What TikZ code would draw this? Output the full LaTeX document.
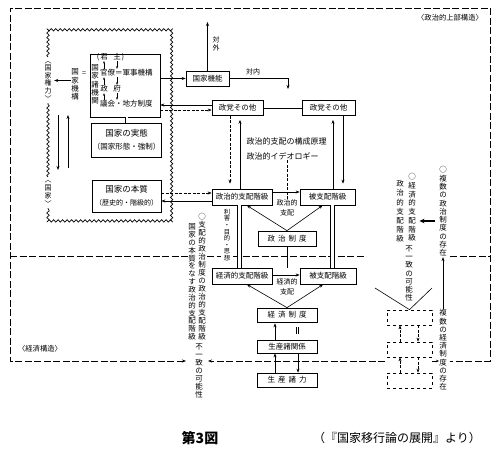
\documentclass[tikz,border=0pt]{standalone}
\usepackage{fontspec}
\setmainfont{Noto Sans CJK JP}
\usetikzlibrary{arrows.meta,decorations.pathmorphing}

% vertical (tate-gaki) text: one glyph per line
\newcommand\tate[2][8.2pt]{\vbox{\baselineskip=#1\lineskiplimit=-20pt\lineskip=0pt\tatex#2\relax}}
\def\tatex#1{\ifx\relax#1\else\hbox to 1em{\hss#1\hss}\expandafter\tatex\fi}

\begin{document}
\begin{tikzpicture}[x=1pt,y=-1pt,
    kbox/.style={draw, line width=0.7pt, inner sep=1pt, font=\fontsize{7.5}{9}\selectfont},
    txt/.style={inner sep=0.5pt, font=\fontsize{7.5}{9}\selectfont},
    small/.style={inner sep=0.5pt, font=\fontsize{7}{10}\selectfont},
    arr/.style={line width=0.6pt, -{Stealth[length=4pt,width=3pt]}},
    tarr/.style={line width=0.5pt, -{Stealth[length=2.6pt,width=2pt]}},
    waku/.style={line width=0.8pt, dash pattern=on 7pt off 2.5pt},
    dline/.style={dash pattern=on 3pt off 1.5pt},
    wavy/.style={line width=0.7pt, decorate, decoration={snake, segment length=4.5pt, amplitude=1.2pt}}]
  \useasboundingbox (0,0) rectangle (500,452);

    % Draw the outer frames
  \draw[waku, {Stealth[length=4pt,width=3pt]}-] (186,361) -| (10,8) -| (490,361) -- (450,361);
  \draw[waku] (10,256) -- (188,256);
  \draw[waku] (207,256) -- (221,256);
  \draw[waku] (233,256) -- (366,256);
  \draw[waku] (450,256) -- (490,256);
  \draw[waku, -{Stealth[length=4pt,width=3pt]}] (385,361) -- (208,361);
  \draw[waku, -{Stealth[length=3pt,width=2.5pt]}] (432,361) -- (439,361);
  \node[small, font=\fontsize{7.3}{9}\selectfont] (joubu) at (450,18) {〈政治的上部構造〉};
  \node[small, font=\fontsize{7.3}{9}\selectfont] (keizaikouzou) at (40,349) {〈経済構造〉};

    % The state (wavy frame)
  \draw[wavy] (48,57) -- (48,30) -- (175,30) -- (175,222) -- (48,222) -- (48,208);
  \draw[wavy] (48,177) -- (48,103);
  \node[small] (kenryoku) at (48,81) {\tate[7.6pt]{︿国家権力﹀}};
  \node[small] (kokka) at (48,193.5) {\tate[8.3pt]{︿国家﹀}};
  \node[txt] (kikou) at (75,84.5) {\tate[8.3pt]{国家機構}};
  \node[small] (eq1) at (84,74) {=};
  \node[txt] (shokikan) at (95,84.5) {\tate[8.25pt]{国家諸機関}};

  \node[kbox, minimum width=70pt, minimum height=63pt] (kikan) at (125,85.5) {};
  \node[txt] (kun) at (104,57) {君};
  \node[txt, anchor=east, inner sep=0pt] (kunL) at (kun.west) {(};
  \node[txt] (shu) at (117,57) {主};
  \node[txt, anchor=west, inner sep=0pt] (shuR) at (shu.east) {)};
  \node[txt, anchor=west] (kanryo) at (99.5,73) {官僚＝軍事機構};
  \node[txt] (sei) at (104,89) {政};
  \node[txt] (fu) at (117,89) {府};
  \node[txt, anchor=west] (gikai) at (99.5,104) {議会・地方制度};
  \draw[tarr] (kanryo.north -| kun) -- (kun.south);
  \draw[tarr] (shu.south) -- (kanryo.north -| shu);
  \draw[tarr] (sei.north) -- (sei |- kanryo.south);
  \draw[tarr] (fu |- kanryo.south) -- (fu.north);
  \draw[tarr] (gikai.north -| sei) -- (sei.south);
  \draw[tarr] (fu.south) -- (gikai.north -| fu);

  \node[kbox, minimum width=69pt, minimum height=34pt, align=center, font=\fontsize{7.5}{12.5}\selectfont] (jittai) at (126.5,140)
    {{\fontsize{8.5}{12.5}\selectfont 国家の実態}\\（国家形態・強制）};
  \node[kbox, minimum width=69pt, minimum height=32pt, align=center, font=\fontsize{7}{12.5}\selectfont] (honshitsu) at (126.5,196)
    {{\fontsize{8.5}{12.5}\selectfont 国家の本質}\\（歴史的・階級的）};
  \draw[double, double distance=2pt, line width=0.5pt] (jittai.north) -- (jittai.north |- kikan.south);
  \draw[arr, shorten >=2pt] ([yshift=4pt]kikou.west) -- ([yshift=4pt]kikou.west -| kenryoku.east);
  \coordinate (la1) at (58,115);
  \coordinate (la2) at (58,170);
  \coordinate (ra1) at (68,168);
  \coordinate (ra2) at (68,115);
  \draw[arr] (la1) -- (la2);
  \draw[arr] (ra1) -- (ra2);

    % State functions and parties
  \node[kbox, minimum width=43pt, minimum height=15pt] (kinou) at (207.5,78.5) {国家機能};
  \node[kbox, minimum width=51pt, minimum height=15pt] (seito1) at (237.5,108) {政党その他};
  \node[kbox, minimum width=53pt, minimum height=15pt] (seito2) at (328.5,108) {政党その他};
  \node[small] (taigai) at (216,44) {\tate[8pt]{対外}};
  \node[small] (tainai) at (253,72) {対内};
  \coordinate (gai) at (207.5,22);
  \coordinate (nai) at (288,89);
  \draw[arr] (kikan.east |- kinou) -- (kinou.west);
  \draw[arr] (kinou.north) -- (gai);
  \draw[arr] (kinou.east) -| (nai);
  \draw[arr] ([yshift=3pt]seito1.west) -- ([yshift=3pt]seito1.west -| kikan.east);
  \draw[arr, dline] ([yshift=-2pt]seito1.west -| kikan.east) -- ([yshift=-2pt]seito1.west);
  \draw[line width=0.6pt] (seito1.east) -- (seito2.west);

    % Political domination
  \node[txt, anchor=west, font=\fontsize{8}{9}\selectfont] (genri) at (246,141) {政治的支配の構成原理};
  \node[txt, anchor=west, font=\fontsize{8}{9}\selectfont] (ideo) at (246,156) {政治的イデオロギー};
  \node[kbox, minimum width=60pt, minimum height=16pt] (sihai1) at (242,197) {政治的支配階級};
  \node[kbox, minimum width=55pt, minimum height=16pt] (hisihai1) at (327.5,197) {被支配階級};
  \node[kbox, minimum width=58pt, minimum height=15pt] (seiji) at (287,238.5) {政\hspace{3pt}治\hspace{3pt}制\hspace{3pt}度};
  \node[small, align=center] (seijisihai) at (287,208) {政治的\\支配};
  \draw[arr, dline, shorten >=5pt] ([xshift=-7.5pt]seito1.south) -- ([xshift=-12pt]sihai1.north);
  \draw[arr, shorten >=4pt] ([xshift=-2pt]sihai1.north) -- ([xshift=2.5pt]seito1.south);
  \draw[arr, shorten >=4pt] ([xshift=5.5pt]hisihai1.north) -- ([xshift=4.5pt]seito2.south);
  \draw[arr, shorten >=5pt] ([xshift=14.5pt]seito2.south) -- ([xshift=15.5pt]hisihai1.north);
  \draw[dline, line width=0.6pt] (ideo.south -| seiji.north) -- (seijisihai.north);
  \draw[arr] ([yshift=5pt]sihai1.east) -- ([yshift=5pt]hisihai1.west);
  \draw[arr] (seiji.north) -- (sihai1.-60);
  \draw[arr] (seiji.north) -- (hisihai1.-120);
  \draw[arr, dline] ([yshift=3pt]honshitsu.east) -- ([yshift=3pt]honshitsu.east -| sihai1.west);
  \draw[arr] ([yshift=-4pt]sihai1.west) -- ([yshift=-4pt]sihai1.west -| honshitsu.east);

    % Economic domination
  \node[kbox, minimum width=60pt, minimum height=16pt] (sihai2) at (242,276) {経済的支配階級};
  \node[kbox, minimum width=56pt, minimum height=16pt] (hisihai2) at (328,276) {被支配階級};
  \node[kbox, minimum width=60pt, minimum height=14pt] (keizai) at (287,315) {経\hspace{3pt}済\hspace{3pt}制\hspace{3pt}度};
  \node[kbox, minimum width=60pt, minimum height=13pt] (kankei) at (287,346.5) {生産諸関係};
  \node[kbox, minimum width=60pt, minimum height=14pt] (ryoku) at (287,380) {生\hspace{3pt}産\hspace{3pt}諸\hspace{3pt}力};
  \node[small, align=center] (keizaisihai) at (287,287) {経済的\\支配};
  \node[inner sep=0pt, font=\fontsize{6.3}{7}\selectfont] (rigai) at (227,235) {\tate[6.6pt]{利害・目的・思想}};
  \draw[double, double distance=3.5pt, line width=0.5pt] ([xshift=-2.5pt]sihai1.south) -- ([xshift=-2.5pt]sihai2.north);
  \draw[double, double distance=3.5pt, line width=0.5pt] ([xshift=5pt]hisihai1.south) -- ([xshift=4.5pt]hisihai2.north);
  \draw[line width=0.6pt] (seiji.south) -- (seiji.south |- sihai2.north);
  \draw[arr] ([yshift=1pt]sihai2.east) -- ([yshift=1pt]hisihai2.west);
  \draw[arr] (keizai.north) -- (sihai2.-60);
  \draw[arr] (keizai.north) -- (hisihai2.-120);
  \draw[arr, shorten >=1pt] ([xshift=-12pt]kankei.north) -- ([xshift=-12pt]keizai.south);
  \node[inner sep=0pt] (ident) at (297,330.5) {\rule{1pt}{7pt}\hspace{1pt}\rule{1pt}{7pt}};
  \draw[arr] ([xshift=-12pt]ryoku.north) -- ([xshift=-12pt]kankei.south);
  \draw[arr] ([xshift=11pt]kankei.south) -- ([xshift=11pt]ryoku.north);

    % Notes in the middle column
  \node[txt] (tL1) at (202,277) {\tate[8pt]{○支配的政治制度の政治的支配階級}};
  \node[txt] (tL2) at (192,282) {\tate[7.86pt]{国家の本質をなす政治的支配階級}};
  \node[txt] (tL3) at (199,371) {\tate[8pt]{不一致の可能性}};

    % Right side: plural systems
  \node[kbox, dashed, minimum width=45pt, minimum height=15pt] (blank1) at (409.5,317.5) {};
  \node[kbox, dashed, minimum width=45pt, minimum height=15pt] (blank2) at (409.5,349.5) {};
  \node[kbox, dashed, minimum width=45pt, minimum height=15pt] (blank3) at (409.5,380.5) {};
  \draw[arr, dline] ([xshift=-9.5pt]blank2.north) -- ([xshift=-9.5pt]blank1.south);
  \draw[arr, dline] ([xshift=8.5pt]blank1.south) -- ([xshift=8.5pt]blank2.north);
  \draw[arr, dline] ([xshift=-9.5pt]blank3.north) -- ([xshift=-9.5pt]blank2.south);
  \draw[arr, dline] ([xshift=8.5pt]blank2.south) -- ([xshift=8.5pt]blank3.north);
  \coordinate (vL) at (375,288);
  \coordinate (vR) at (432,288);
  \draw[line width=0.6pt] (vL) -- (blank1.north) -- (vR);

  \node[txt] (tR1) at (412,207.5) {\tate[8.7pt]{○経済的支配階級}};
  \node[txt] (tR2) at (400,211.5) {\tate[9.2pt]{政治的支配階級}};
  \node[txt] (tR3) at (409,273.5) {\tate[8.2pt]{不一致の可能性}};
  \node[txt] (tR4) at (443,211.5) {\tate[8.3pt]{○複数の政治制度の存在}};
  \node[txt] (tR5) at (443,350) {\tate[8.2pt]{複数の経済制度の存在}};
  \draw[arr] (tR5.north) -- (tR4.south);
  \coordinate (yaS) at (435,221);
  \draw[line width=1.3pt, -{Stealth[length=5pt,width=4.5pt]}, shorten >=3pt] (yaS) -- (yaS -| tR1.east);

    % Caption
  \node[font=\fontsize{14}{16}\selectfont\bfseries] (zu) at (200,438) {第3図};
  \node[font=\fontsize{12}{14}\selectfont] (shutten) at (397,438) {（『国家移行論の展開』より）};
\end{tikzpicture}
\end{document}
